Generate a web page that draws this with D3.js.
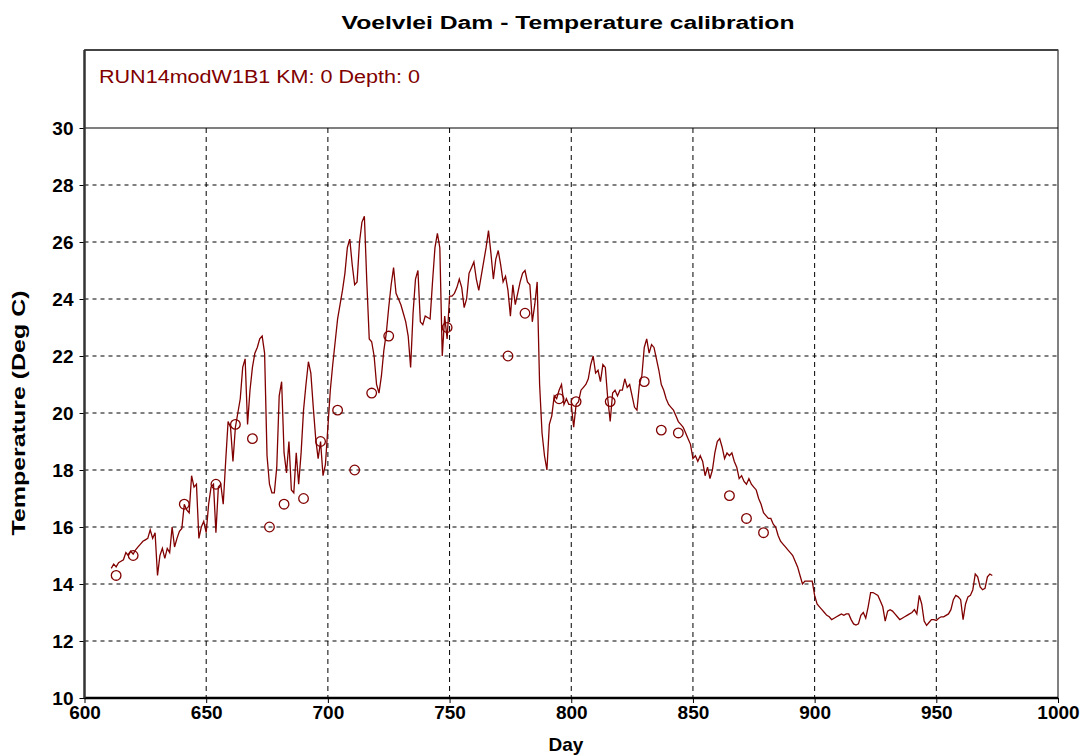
<!DOCTYPE html>
<html>
<head>
<meta charset="utf-8">
<script src="https://cdn.jsdelivr.net/npm/d3@7"></script>
<style>
  body { margin: 0; background: #fff; }
  svg { display: block; font-family: "Liberation Sans", Arial, sans-serif; }
</style>
</head>
<body>
<svg id="canvas" width="1083" height="756"></svg>
<script>
// simulated surface temperature, one value per day starting at day 611
let simStart = 611
let simTemp = [
  14.55, 14.7, 14.6, 14.75, 14.8, 14.85, 15.1, 15.0, 15.15, 15.05,
  15.2, 15.3, 15.4, 15.5, 15.55, 15.6, 15.9, 15.6, 15.8, 14.3,
  15.0, 15.25, 14.9, 15.25, 15.1, 16.0, 15.3, 15.6, 15.85, 15.95,
  16.8, 16.6, 16.5, 17.8, 17.4, 17.5, 15.6, 16.0, 16.2, 15.8,
  16.8, 17.4, 17.5, 15.8, 17.4, 17.5, 16.8, 18.3, 19.7, 19.5,
  18.3, 19.5, 20.0, 20.5, 21.6, 21.9, 19.6, 20.8, 21.6, 22.1,
  22.3, 22.6, 22.7, 22.1, 18.5, 17.5, 17.2, 17.2, 18.1, 20.6,
  21.1, 18.6, 17.9, 19.0, 17.3, 17.2, 18.6, 17.5, 18.6, 20.1,
  21.0, 21.8, 21.4, 20.2, 19.1, 18.4, 19.0, 17.8, 18.2, 19.5,
  20.8, 21.7, 22.5, 23.3, 23.8, 24.3, 24.9, 25.8, 26.1, 25.2,
  24.5, 24.6, 26.0, 26.7, 26.9, 24.6, 22.6, 22.5, 22.0, 21.0,
  20.7, 21.3, 22.2, 22.8, 23.7, 24.5, 25.1, 24.2, 24.0, 23.8,
  23.5, 23.2, 22.7, 21.6, 23.5, 24.7, 25.0, 23.2, 23.1, 23.4,
  23.35, 23.3, 24.6, 25.8, 26.3, 25.8, 22.0, 23.4, 22.6, 24.1,
  24.1, 24.2, 24.4, 24.7, 24.4, 23.7, 24.0, 24.9, 25.1, 25.3,
  24.7, 24.3, 24.8, 25.3, 25.8, 26.4, 25.6, 24.7, 25.4, 25.7,
  25.2, 24.6, 24.8, 24.3, 23.4, 24.5, 23.8, 24.2, 24.6, 24.9,
  25.0, 24.6, 24.5, 23.2, 23.8, 24.6, 21.0, 19.3, 18.5, 18.0,
  19.6, 19.9, 20.6, 20.5, 20.8, 21.0, 20.3, 20.5, 20.3, 20.3,
  19.5, 20.3, 20.4, 20.8, 20.9, 21.0, 21.2, 21.7, 22.0, 21.4,
  21.5, 21.1, 21.7, 21.6, 20.5, 19.7, 20.7, 20.8, 20.6, 20.8,
  20.8, 21.2, 20.9, 21.0, 20.6, 20.2, 20.1, 21.0, 21.3, 22.3,
  22.6, 22.1, 22.4, 22.3, 21.9, 21.5, 21.0, 20.8, 20.5, 20.3,
  20.2, 20.1, 19.9, 19.7, 19.6, 19.5, 19.3, 19.1, 18.9, 18.4,
  18.5, 18.3, 18.5, 18.3, 17.8, 18.1, 17.7, 18.0, 18.6, 19.0,
  19.1, 18.8, 18.4, 18.6, 18.5, 18.6, 18.3, 18.1, 17.7, 17.8,
  17.6, 17.5, 17.7, 17.5, 17.4, 17.3, 17.0, 16.8, 16.5, 16.4,
  16.3, 16.3, 16.1, 16.0, 15.7, 15.5, 15.4, 15.3, 15.2, 15.1,
  15.0, 14.8, 14.6, 14.3, 14.0, 14.1, 14.1, 14.1, 14.1, 13.6,
  13.3, 13.2, 13.1, 13.0, 12.9, 12.85, 12.75, 12.8, 12.85, 12.9,
  12.95, 12.9, 12.95, 12.95, 12.75, 12.6, 12.56, 12.6, 12.9, 13.0,
  12.8, 13.2, 13.7, 13.7, 13.65, 13.6, 13.4, 13.2, 12.7, 13.05,
  13.1, 13.05, 12.95, 12.85, 12.75, 12.8, 12.85, 12.9, 12.95, 13.0,
  13.1, 12.95, 13.6, 13.3, 12.7, 12.55, 12.65, 12.75, 12.75, 12.72,
  12.8, 12.85, 12.85, 12.9, 12.95, 13.1, 13.45, 13.6, 13.55, 13.45,
  12.75, 13.3, 13.55, 13.6, 13.8, 14.35, 14.25, 13.9, 13.8, 13.85,
  14.25, 14.35, 14.3
]

// measured temperatures
let obsDay = [613, 620, 641, 654, 662, 669, 676, 682, 690, 697, 704, 711, 718, 725,
              749, 774, 781, 795, 802, 816, 830, 837, 844, 865, 872, 879]
let obsTemp = [14.3, 15.0, 16.8, 17.5, 19.6, 19.1, 16.0, 16.8, 17.0, 19.0, 20.1, 18.0, 20.7, 22.7,
               23.0, 22.0, 23.5, 20.5, 20.4, 20.4, 21.1, 19.4, 19.3, 17.1, 16.3, 15.8]

let xTicks = [600, 650, 700, 750, 800, 850, 900, 950, 1000]
let yTicks = [10, 12, 14, 16, 18, 20, 22, 24, 26, 28, 30]

let titleText = 'Voelvlei Dam - Temperature calibration'
let legendText = 'RUN14modW1B1 KM: 0 Depth: 0'
let red = '#800000'

let canvas = d3.select('#canvas')

let xScale = d3.scaleLinear().domain([600, 1000]).range([84.5, 1058])
let yScale = d3.scaleLinear().domain([10, 30]).range([698, 128])

let plotLeft = xScale(600), plotRight = xScale(1000)
let boxTop = 50, plotBottom = yScale(10)

// frame
canvas.append('rect')
  .attr('x', plotLeft).attr('y', boxTop)
  .attr('width', plotRight - plotLeft).attr('height', plotBottom - boxTop)
  .attr('fill', 'none').attr('stroke', '#000').attr('stroke-width', 1)
canvas.append('line')
  .attr('x1', plotLeft).attr('x2', plotRight).attr('y1', boxTop).attr('y2', boxTop)
  .attr('stroke', '#444').attr('stroke-width', 2)

// grid
canvas.append('g').selectAll('line')
  .data(yTicks.filter(t => t > 10 && t < 30))
  .enter().append('line')
  .attr('x1', plotLeft).attr('x2', plotRight)
  .attr('y1', d => yScale(d)).attr('y2', d => yScale(d))
  .attr('stroke', '#000').attr('stroke-dasharray', '4,4')
canvas.append('g').selectAll('line')
  .data(xTicks.filter(t => t > 600 && t < 1000))
  .enter().append('line')
  .attr('x1', d => xScale(d)).attr('x2', d => xScale(d))
  .attr('y1', yScale(30)).attr('y2', plotBottom)
  .attr('stroke', '#000').attr('stroke-dasharray', '5,4')

canvas.append('line')
  .attr('x1', plotLeft).attr('x2', plotRight).attr('y1', yScale(30)).attr('y2', yScale(30))
  .attr('stroke', '#000').attr('stroke-width', 1.2)

// axes
let xAxis = d3.axisBottom(xScale).tickValues(xTicks).tickFormat(d3.format('d')).tickSize(5).tickPadding(3)
let yAxis = d3.axisLeft(yScale).tickValues(yTicks).tickFormat(d3.format('d')).tickSize(5).tickPadding(6)

let gx = canvas.append('g').attr('transform', 'translate(0,' + plotBottom + ')').call(xAxis)
let gy = canvas.append('g').attr('transform', 'translate(' + plotLeft + ',0)').call(yAxis)
gx.select('.domain').remove()
gy.select('.domain').remove()
;[gx, gy].forEach(g => {
  g.selectAll('text')
    .attr('font-family', '"Liberation Sans", Arial, sans-serif')
    .attr('font-size', 19).attr('font-weight', 'bold').attr('fill', '#000')
  g.selectAll('line').attr('stroke', '#000')
})

canvas.append('line')
  .attr('x1', plotLeft).attr('x2', plotRight).attr('y1', plotBottom).attr('y2', plotBottom)
  .attr('stroke', '#000').attr('stroke-width', 2.5)
canvas.append('line')
  .attr('x1', plotLeft).attr('x2', plotLeft).attr('y1', boxTop).attr('y2', plotBottom)
  .attr('stroke', '#333').attr('stroke-width', 2.5)

// simulated line
let line = d3.line()
  .x((t, i) => xScale(simStart + i))
  .y(t => yScale(t))

canvas.append('path')
  .datum(simTemp)
  .attr('d', line)
  .attr('fill', 'none')
  .attr('stroke', red)
  .attr('stroke-width', 1.3)

// observations
canvas.append('g').selectAll('circle')
  .data(obsDay)
  .enter().append('circle')
  .attr('cx', d => xScale(d))
  .attr('cy', (d, i) => yScale(obsTemp[i]))
  .attr('r', 4.8)
  .attr('fill', 'none')
  .attr('stroke', red)
  .attr('stroke-width', 1.3)

// texts
canvas.append('text')
  .text(titleText)
  .attr('x', 568).attr('y', 29)
  .attr('text-anchor', 'middle')
  .attr('font-size', 18).attr('font-weight', 'bold')
  .attr('textLength', 453).attr('lengthAdjust', 'spacingAndGlyphs')

canvas.append('text')
  .text(legendText)
  .attr('x', 99).attr('y', 83)
  .attr('font-size', 18).attr('fill', red)
  .attr('textLength', 321).attr('lengthAdjust', 'spacingAndGlyphs')

canvas.append('text')
  .text('Day')
  .attr('x', 566).attr('y', 751)
  .attr('text-anchor', 'middle')
  .attr('font-size', 19).attr('font-weight', 'bold')

canvas.append('text')
  .text('Temperature (Deg C)')
  .attr('transform', 'translate(25,413) rotate(-90)')
  .attr('text-anchor', 'middle')
  .attr('font-size', 19).attr('font-weight', 'bold')
  .attr('textLength', 245).attr('lengthAdjust', 'spacingAndGlyphs')
</script>
</body>
</html>
